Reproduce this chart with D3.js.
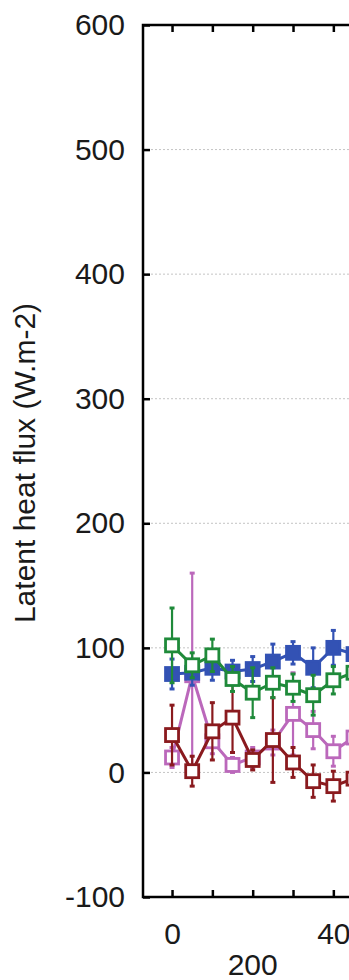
<!DOCTYPE html>
<html>
<head>
<meta charset="utf-8">
<script src="https://cdn.jsdelivr.net/npm/d3@7"></script>
<style>
  body { margin: 0; background: #fff; }
  svg { display: block; font-family: "Liberation Sans", Arial, sans-serif; }
</style>
</head>
<body>
<svg id="chart"></svg>
<script>
// values
var days = [0, 5, 10, 15, 20, 25, 30, 35, 40, 45];
var blueVals = [79, 80, 84, 81, 83, 89, 96, 84, 100, 95];
var blueErr = [12, 10, 10, 9, 10, 14, 9, 16, 14, 12];
var greenVals = [102, 86, 94, 75, 64, 72, 68, 62, 74, 80];
var greenErr = [30, 10, 13, 10, 20, 12, 11, 16, 11, 12];
var pinkVals = [12, 78, 25, 6, 12, 24, 47, 34, 17, 28];
var pinkErr = [8, 82, 10, 6, 8, 10, 33, 15, 12, 10];
var redVals = [30, 1, 33, 44, 10, 26, 8, -7, -11, -5];
var redErr = [24, 12, 23, 28, 8, 34, 12, 13, 12, 10];
var yTicks = [-100, 0, 100, 200, 300, 400, 500, 600];
var gridVals = [0, 100, 200, 300, 400, 500];
var xTicks = [0, 10, 20, 30, 40, 50, 60];
var xLabels = [0, 40];

var W = 349, H = 980;
var margin = {top: 25, left: 143, bottom: 897, right: 414};

var svg = d3.select("#chart").attr("width", W).attr("height", H);

var x = d3.scaleLinear().domain([-7.2, 60]).range([margin.left, margin.right]);
var y = d3.scaleLinear().domain([-100, 600]).range([margin.bottom, margin.top]);

svg.append("clipPath").attr("id", "plot")
  .append("rect")
  .attr("x", margin.left).attr("y", margin.top)
  .attr("width", margin.right - margin.left)
  .attr("height", margin.bottom - margin.top);

// dotted grid
svg.append("g").selectAll("line")
  .data(gridVals).enter().append("line")
  .attr("x1", margin.left).attr("x2", margin.right)
  .attr("y1", function(d){ return y(d); })
  .attr("y2", function(d){ return y(d); })
  .style("stroke", "#c4c4c4")
  .style("stroke-width", 1)
  .style("stroke-dasharray", "2,2");

var series = [
  {vals: pinkVals, err: pinkErr, color: "#bb68bb", fill: "#fff"},
  {vals: redVals, err: redErr, color: "#8a1a1e", fill: "#fff"},
  {vals: blueVals, err: blueErr, color: "#3352b4", fill: "#3352b4"},
  {vals: greenVals, err: greenErr, color: "#1f8a3a", fill: "#fff"}
];

var plot = svg.append("g").attr("clip-path", "url(#plot)");
var line = d3.line()
  .x(function(d){ return x(d.x); })
  .y(function(d){ return y(d.v); });

series.forEach(function(s){
  var pts = days.map(function(d, i){ return {x: d, v: s.vals[i], e: s.err[i]}; });
  var g = plot.append("g");

  g.append("path")
    .datum(pts)
    .attr("d", line)
    .style("fill", "none")
    .style("stroke", s.color)
    .style("stroke-width", 3);

  g.selectAll(".bar").data(pts).enter().append("line")
    .attr("x1", function(d){ return x(d.x); })
    .attr("x2", function(d){ return x(d.x); })
    .attr("y1", function(d){ return y(d.v + d.e); })
    .attr("y2", function(d){ return y(d.v - d.e); })
    .style("stroke", s.color)
    .style("stroke-width", 2.2);

  [1, -1].forEach(function(sign){
    g.selectAll(".cap").data(pts).enter().append("line")
      .attr("x1", function(d){ return x(d.x) - 2.5; })
      .attr("x2", function(d){ return x(d.x) + 2.5; })
      .attr("y1", function(d){ return y(d.v + sign * d.e); })
      .attr("y2", function(d){ return y(d.v + sign * d.e); })
      .style("stroke", s.color)
      .style("stroke-width", 3);
  });

  g.selectAll("rect").data(pts).enter().append("rect")
    .attr("x", function(d){ return x(d.x) - 6.5; })
    .attr("y", function(d){ return y(d.v) - 6.5; })
    .attr("width", 13).attr("height", 13)
    .style("fill", s.fill)
    .style("stroke", s.color)
    .style("stroke-width", 2.8);
});

// axes
var yAxis = d3.axisLeft(y).tickValues(yTicks).tickSize(-7).tickSizeOuter(0).tickPadding(18)
  .tickFormat(function(d){ return String(d); });
var xAxis = d3.axisBottom(x).tickValues(xTicks).tickSize(-7).tickSizeOuter(0).tickPadding(26)
  .tickFormat(function(d){ return xLabels.indexOf(d) >= 0 ? String(d) : ""; });
var xTop = d3.axisTop(x).tickValues(xTicks).tickSize(-7).tickSizeOuter(0).tickFormat("");

var ya = svg.append("g").attr("transform", "translate(" + margin.left + ",0)").call(yAxis);
var xa = svg.append("g").attr("transform", "translate(0," + margin.bottom + ")").call(xAxis);
var xt = svg.append("g").attr("transform", "translate(0," + margin.top + ")").call(xTop);

[ya, xa, xt].forEach(function(a){
  a.select(".domain").remove();
  a.selectAll("line").style("stroke", "#000").style("stroke-width", 2.5);
  a.selectAll("text").style("font-size", "30px").style("fill", "#1a1a1a")
    .style("font-family", "'Liberation Sans', Arial, sans-serif");
});

// frame
svg.append("rect")
  .attr("x", margin.left).attr("y", margin.top)
  .attr("width", margin.right - margin.left)
  .attr("height", margin.bottom - margin.top)
  .style("fill", "none").style("stroke", "#000").style("stroke-width", 2.5);

svg.append("text")
  .attr("transform", "translate(35," + 463 + ") rotate(-90)")
  .style("text-anchor", "middle")
  .style("font-size", "30px")
  .style("fill", "#1a1a1a")
  .text("Latent heat flux (W.m-2)");

svg.append("text")
  .attr("x", x(20)).attr("y", 975)
  .style("text-anchor", "middle")
  .style("font-size", "30px")
  .style("fill", "#1a1a1a")
  .text("200");
</script>
</body>
</html>
